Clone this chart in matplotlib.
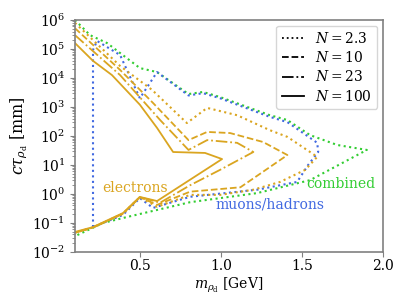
import numpy as np
import matplotlib
matplotlib.use('Agg')
import matplotlib.pyplot as plt

plt.rcParams['font.family'] = ['DejaVu Serif']
plt.rcParams['mathtext.fontset'] = 'dejavuserif'
plt.rcParams['font.size'] = 10

# electrons, N = 2.3 (dotted)
e_x_23 = [0.1, 0.378, 0.575, 0.79, 0.915, 1.10, 1.30, 1.41, 1.55, 1.594,
          1.52, 1.365, 1.20, 0.995, 0.81, 0.606, 0.5, 0.396, 0.211, 0.1]
e_y_23 = [8e5, 2.6e4, 3.9e3, 280, 930, 520, 160, 93, 28, 19,
          6.8, 2.6, 1.4, 0.93, 0.93, 0.36, 0.78, 0.21, 0.07, 0.046]
# electrons, N = 10 (dashed)
e_x_10 = [0.1, 0.378, 0.58, 0.80, 0.915, 1.057, 1.26, 1.41,
          1.12, 0.81, 0.606, 0.5, 0.396, 0.211, 0.1]
e_y_10 = [5.2e5, 1.9e4, 1.4e3, 72, 138, 126, 62, 22,
          1.7, 1.2, 0.42, 0.78, 0.21, 0.07, 0.046]
# electrons, N = 23 (dash-dot)
e_x_230 = [0.1, 0.378, 0.625, 0.80, 0.915, 1.10, 1.20,
           0.995, 0.81, 0.625, 0.5, 0.396, 0.211, 0.1]
e_y_230 = [3e5, 1.26e4, 355, 33, 72, 58, 28,
           6.8, 2.0, 0.5, 0.78, 0.21, 0.07, 0.046]
# electrons, N = 100 (solid)
e_x_100 = [0.1, 0.211, 0.328, 0.5, 0.606, 0.705, 0.902, 1.007,
           0.606, 0.5, 0.396, 0.211, 0.1]
e_y_100 = [1.6e5, 3.9e4, 1.26e4, 1.2e3, 190, 28, 26, 16,
           0.57, 0.79, 0.22, 0.072, 0.049]

# muons/hadrons, N = 2.3
mu_x = [0.211, 0.211, 0.236, 0.378, 0.5, 0.606, 0.80, 0.89, 0.995, 1.30, 1.41,
        1.594, 1.6, 1.538, 1.47, 1.223, 0.81, 0.581, 0.5, 0.396, 0.211]
mu_y = [0.072, 9.3e4, 1.9e5, 6.2e4, 2.0e3, 1.6e4, 2.5e3, 3.0e3, 2.0e3, 460, 300,
        58, 28, 10, 2.6, 1.4, 0.8, 0.33, 0.72, 0.19, 0.072]

# combined, N = 2.3
comb_x = [0.1, 0.193, 0.298, 0.5, 0.606, 0.80, 0.89, 0.995, 1.30, 1.41, 1.55,
          1.717, 1.90, 1.55, 1.223, 0.81, 0.42, 0.273, 0.1]
comb_y = [1e6, 3.0e5, 1.6e5, 2.2e4, 1.6e4, 2.8e3, 3.3e3, 2.2e3, 525, 355, 107,
          49, 33, 3.0, 1.07, 0.52, 0.16, 0.1, 0.035]

c_e = 'goldenrod'
c_mu = 'royalblue'
c_comb = 'limegreen'
lw = 1.3

fig = plt.figure(figsize=(4.11, 3.08), dpi=100)
ax = fig.add_axes([0.1825, 0.182, 0.7495, 0.753])

ax.plot(comb_x, comb_y, ':', color=c_comb, lw=1.5)
ax.plot(mu_x, mu_y, ':', color=c_mu, lw=1.5)
ax.plot(e_x_23, e_y_23, ':', color=c_e, lw=1.5)
ax.plot(e_x_10, e_y_10, '--', color=c_e, lw=lw)
ax.plot(e_x_230, e_y_230, '-.', color=c_e, lw=lw)
ax.plot(e_x_100, e_y_100, '-', color=c_e, lw=lw)

# legend with black lines
for ls, lab in [(':', '$N = 2.3$'), ('--', '$N = 10$'),
                ('-.', '$N = 23$'), ('-', '$N = 100$')]:
    ax.plot([], [], ls, color='k', lw=lw, label=lab)
ax.legend(loc='upper right', frameon=True, fontsize=10, labelspacing=0.3,
          handlelength=1.6, handletextpad=0.8, borderaxespad=0.4)

ax.text(0.47, 1.6, 'electrons', color=c_e, ha='center', va='center')
ax.text(1.30, 0.42, 'muons/hadrons', color=c_mu, ha='center', va='center')
ax.text(1.74, 2.2, 'combined', color=c_comb, ha='center', va='center')

ax.set_yscale('log')
ax.set_xlim(0.1, 2.0)
ax.set_ylim(1e-2, 1e6)
ax.set_xticks([0.5, 1.0, 1.5, 2.0])
ax.set_xlabel(r'$m_{\rho_{\rm d}}$ [GeV]', labelpad=2)
ax.set_ylabel(r'$c\tau_{\rho_{\rm d}}$ [mm]', fontsize=11.5, labelpad=2)

for s in ax.spines.values():
    s.set_color('gray')
    s.set_linewidth(1.2)
ax.tick_params(which='both', color='gray')
ax.tick_params(axis='x', pad=1.5)

fig.savefig('out.png', dpi=100)
